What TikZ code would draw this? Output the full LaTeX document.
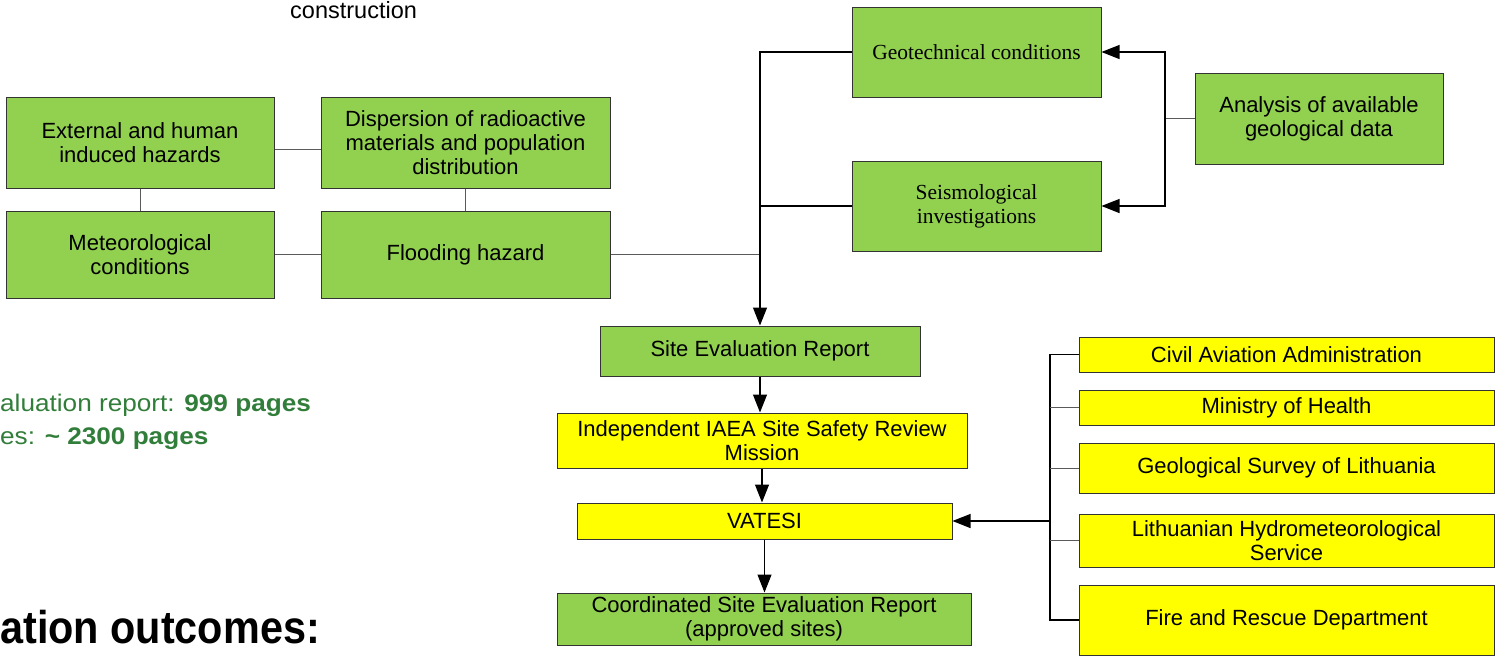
\documentclass[tikz,border=0pt]{standalone}
\usepackage{fontspec}
\setmainfont{Liberation Sans}
\newfontfamily\serifbox{Liberation Serif}
\newfontfamily\greenfont{Liberation Sans}[FakeStretch=1.09]
\newfontfamily\headfont{Liberation Sans}[FakeStretch=0.9]
\usetikzlibrary{arrows.meta}
\definecolor{boxgreen}{RGB}{146,208,80}
\definecolor{boxyellow}{RGB}{255,255,0}
\definecolor{txtgreen}{RGB}{49,125,58}
\definecolor{lgray}{RGB}{90,90,90}
\tikzset{
  gbox/.style={draw=black!80, line width=1pt, fill=boxgreen, inner sep=0pt, align=center,
    font=\fontsize{22}{24}\selectfont},
  ybox/.style={gbox, fill=boxyellow},
  sbox/.style={gbox, font=\serifbox\fontsize{21.5}{24}\selectfont},
  gline/.style={draw=lgray, line width=1pt},
  bline/.style={draw=black, line width=1.1pt},
  arr/.style={bline, -{Triangle[length=18pt,width=14pt]}},
}
\begin{document}
\begin{tikzpicture}[x=1pt,y=-1pt]
\useasboundingbox (0,0) rectangle (1499,657);
% left hazard boxes
\node[gbox, minimum width=268pt, minimum height=91pt] (ext) at (140,142.5) {External and human\\induced hazards};
\node[gbox, minimum width=289pt, minimum height=91pt] (disp) at (465.5,142.5) {Dispersion of radioactive\\materials and population\\distribution};
\node[gbox, minimum width=268pt, minimum height=87pt] (met) at (140,254.5) {Meteorological\\conditions};
\node[gbox, minimum width=289pt, minimum height=87pt] (flood) at (465.5,254.5) {Flooding hazard};
% geology boxes
\node[sbox, minimum width=249pt, minimum height=90pt] (geo) at (976.5,52) {Geotechnical conditions};
\node[sbox, minimum width=249pt, minimum height=90pt] (seis) at (976.5,206) {Seismological\\investigations};
\node[gbox, minimum width=248pt, minimum height=91pt] (anal) at (1319,118.5) {Analysis of available\\geological data};
% central chain
\node[gbox, minimum width=320pt, minimum height=50pt] (ser) at (760,351) {Site Evaluation Report};
\node[ybox, minimum width=410pt, minimum height=55pt] (iaea) at (762,440.5) {Independent IAEA Site Safety Review\\Mission};
\node[ybox, minimum width=375pt, minimum height=36pt] (vatesi) at (764.5,521) {VATESI};
\node[gbox, minimum width=414pt, minimum height=52pt] (coord) at (764,619) {Coordinated Site Evaluation Report\\(approved sites)};
% institutions
\node[ybox, minimum width=415pt, minimum height=35pt] (civil) at (1286.5,354.5) {Civil Aviation Administration};
\node[ybox, minimum width=415pt, minimum height=35pt] (health) at (1286.5,407.5) {Ministry of Health};
\node[ybox, minimum width=415pt, minimum height=50pt] (geosurv) at (1286.5,468) {Geological Survey of Lithuania};
\node[ybox, minimum width=415pt, minimum height=53pt] (hydro) at (1286.5,540.5) {Lithuanian Hydrometeorological\\Service};
\node[ybox, minimum width=415pt, minimum height=70pt] (fire) at (1286.5,620) {Fire and Rescue Department};
% free texts
\node[anchor=base west, inner sep=0pt, font=\fontsize{23.5}{26}\selectfont] (constr) at (290,18) {construction};
\node[anchor=base west, inner sep=0pt, text=txtgreen, font=\greenfont\fontsize{24}{28}\selectfont] (g1) at (0,411) {aluation report: \textbf{999 pages}};
\node[anchor=base west, inner sep=0pt, text=txtgreen, font=\greenfont\fontsize{24}{28}\selectfont] (g2) at (0,444) {es: \textbf{\textasciitilde{} 2300 pages}};
\node[anchor=base west, inner sep=0pt, font=\headfont\bfseries\fontsize{46}{50}\selectfont] (head) at (0,643) {ation outcomes:};
% coordinates
\coordinate (trunk) at (760,254.5);
\coordinate (J) at (1165,118.5);
\coordinate (B) at (1050,521);
% hazard connectors
\draw[gline] (ext.east |- 0,149) -- (disp.west |- 0,149);
\draw[gline] (ext.south) -- (met.north);
\draw[gline] (disp.south) -- (flood.north);
\draw[gline] (met.east) -- (flood.west);
\draw[gline] (flood.east) -- (trunk);
% trunk
\draw[arr] (geo.west) -| (ser.north);
\draw[bline] (seis.west) -- (seis.west -| ser.north);
% analysis
\draw[gline] (anal.west) -- (J);
\draw[arr] (J) |- (geo.east);
\draw[arr] (J) |- (seis.east);
% chain
\draw[arr] (ser.south) -- (ser.south |- iaea.north);
\draw[arr] (iaea.south) -- (iaea.south |- vatesi.north);
\draw[arr] (vatesi.south) -- (vatesi.south |- coord.north);
% institutions bracket
\draw[bline] (civil.west) -| (B);
\draw[bline] (fire.west) -| (B);
\draw[gline] (health.west) -- (health.west -| B);
\draw[gline] (geosurv.west) -- (geosurv.west -| B);
\draw[gline] (hydro.west) -- (hydro.west -| B);
\draw[arr] (B) -- (vatesi.east);
\end{tikzpicture}
\end{document}
